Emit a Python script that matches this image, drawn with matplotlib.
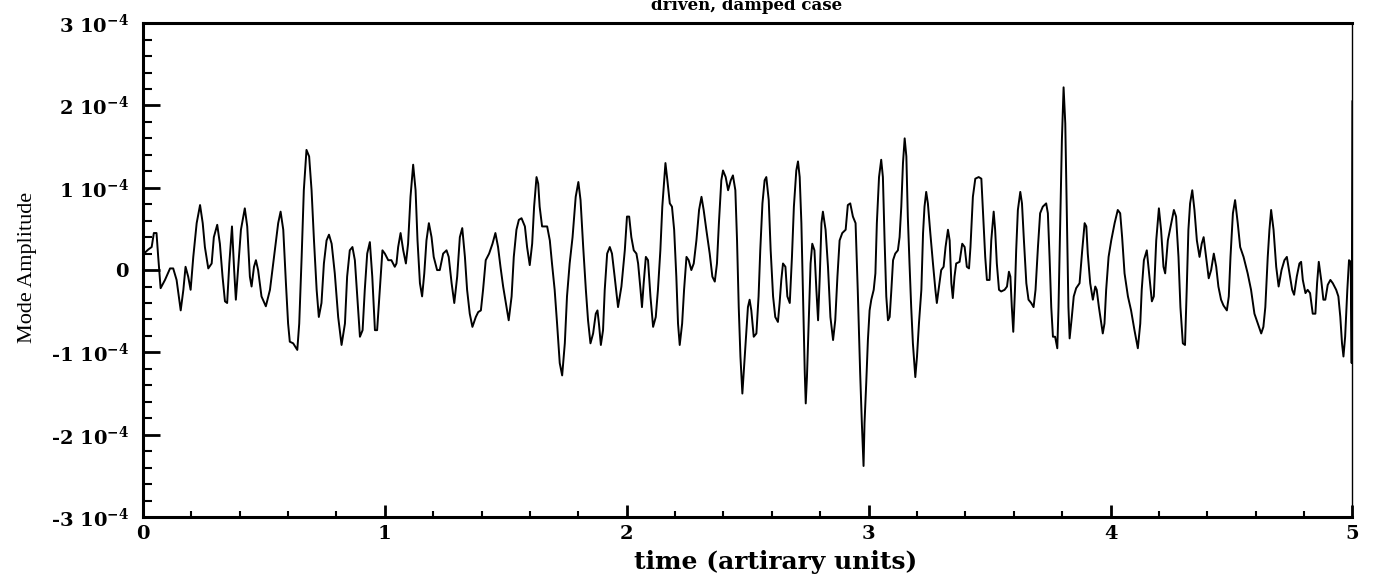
import numpy as np
import matplotlib
matplotlib.use('Agg')
from matplotlib import pyplot as plt
from matplotlib.ticker import MultipleLocator

# mode amplitude (units of 1e-4) vs time
t = [0.004, 0.022, 0.036, 0.045, 0.056, 0.063, 0.073, 0.091, 0.112, 0.125, 0.139, 0.156, 0.167, 0.176, 0.187, 0.197,
     0.208, 0.222, 0.236, 0.247, 0.256, 0.270, 0.284, 0.293, 0.307, 0.318, 0.329, 0.339, 0.348, 0.357, 0.368, 0.377,
     0.384, 0.394, 0.405, 0.421, 0.431, 0.442, 0.449, 0.459, 0.467, 0.476, 0.490, 0.508,
     0.525, 0.545, 0.559, 0.569, 0.580, 0.591, 0.600, 0.607, 0.621, 0.638, 0.646, 0.656, 0.665, 0.676, 0.687, 0.697,
     0.707, 0.718, 0.727, 0.738, 0.748, 0.759, 0.769, 0.780, 0.793, 0.807, 0.821, 0.835, 0.844, 0.855, 0.866, 0.876,
     0.886, 0.897, 0.908, 0.917, 0.927, 0.938, 0.948, 0.959, 0.968, 0.979, 0.990,
     1.000, 1.014, 1.027, 1.041, 1.048, 1.055, 1.065, 1.076, 1.087, 1.096, 1.106, 1.117, 1.127, 1.135, 1.145, 1.154,
     1.163, 1.172, 1.182, 1.193, 1.202, 1.216, 1.227, 1.241, 1.255, 1.264, 1.276, 1.287, 1.299, 1.310, 1.320, 1.331,
     1.340, 1.351, 1.362, 1.376, 1.386, 1.397, 1.406, 1.417, 1.431, 1.445, 1.457, 1.468, 1.478, 1.489,
     1.503, 1.512, 1.524, 1.533, 1.544, 1.554, 1.565, 1.579, 1.588, 1.599, 1.609, 1.617, 1.627, 1.634, 1.640, 1.650,
     1.661, 1.671, 1.682, 1.691, 1.702, 1.712, 1.723, 1.733, 1.744, 1.753, 1.764, 1.776, 1.789, 1.800, 1.809, 1.820,
     1.831, 1.840, 1.850, 1.861, 1.872, 1.879, 1.885, 1.893, 1.902, 1.909, 1.919, 1.930, 1.939, 1.950, 1.964, 1.978,
     1.992, 2.001, 2.010, 2.019, 2.029, 2.040, 2.047, 2.057, 2.063, 2.070, 2.079, 2.088, 2.098, 2.109, 2.120, 2.129,
     2.139, 2.147, 2.160, 2.168, 2.178, 2.187, 2.196, 2.205, 2.212, 2.219, 2.229, 2.237, 2.247, 2.256, 2.267, 2.277,
     2.288, 2.299, 2.309, 2.318, 2.329, 2.343, 2.354, 2.364, 2.373, 2.381, 2.391, 2.398, 2.409, 2.419, 2.430, 2.439,
     2.449, 2.456, 2.463, 2.470, 2.478,
     2.488, 2.495, 2.501, 2.508, 2.515, 2.525, 2.536, 2.545, 2.552, 2.561, 2.570, 2.577, 2.587, 2.595, 2.605, 2.614,
     2.625, 2.632, 2.639, 2.646, 2.656, 2.664, 2.674, 2.683, 2.691, 2.701, 2.708, 2.715, 2.722, 2.729, 2.736, 2.740,
     2.745, 2.752, 2.760, 2.767, 2.776, 2.784, 2.791, 2.798, 2.805, 2.811, 2.822, 2.832, 2.842, 2.853, 2.862, 2.871,
     2.880, 2.891, 2.905, 2.914, 2.924, 2.935, 2.946, 2.955, 2.965, 2.972, 2.979,
     2.983, 2.990, 2.997, 3.004, 3.011, 3.021, 3.028, 3.034, 3.043, 3.052, 3.059, 3.066, 3.073, 3.080, 3.087, 3.094,
     3.101, 3.110, 3.121, 3.128, 3.135, 3.142, 3.149, 3.156, 3.162, 3.169, 3.176, 3.183, 3.193, 3.200, 3.208, 3.218,
     3.225, 3.231, 3.238, 3.245, 3.255, 3.266, 3.276, 3.282, 3.291, 3.300, 3.310, 3.318, 3.328, 3.335, 3.342, 3.348,
     3.355, 3.362, 3.376, 3.387, 3.397, 3.406, 3.415, 3.421, 3.431, 3.441, 3.455, 3.466,
     3.475, 3.482, 3.489, 3.500, 3.507, 3.517, 3.523, 3.530, 3.539, 3.548, 3.562, 3.572, 3.580, 3.586, 3.592, 3.598,
     3.605, 3.610, 3.617, 3.627, 3.634, 3.642, 3.652, 3.661, 3.672, 3.682, 3.690, 3.700, 3.709, 3.720, 3.734, 3.741,
     3.748, 3.755, 3.762, 3.771, 3.780, 3.785, 3.792, 3.799, 3.806, 3.813, 3.820, 3.826, 3.831, 3.840, 3.848, 3.858,
     3.872, 3.883, 3.893, 3.900, 3.906, 3.916, 3.927, 3.937, 3.943, 3.952,
     3.962, 3.968, 3.975, 3.982, 3.992, 4.003, 4.017, 4.030, 4.040, 4.048, 4.058, 4.072, 4.085, 4.099, 4.113, 4.123,
     4.129, 4.138, 4.150, 4.161, 4.171, 4.179, 4.189, 4.200, 4.209, 4.219, 4.226, 4.237, 4.251, 4.262, 4.271, 4.281,
     4.289, 4.299, 4.308, 4.315, 4.322, 4.329, 4.338, 4.347, 4.357, 4.368, 4.377, 4.385, 4.395, 4.406, 4.416, 4.427,
     4.437, 4.446, 4.457, 4.467,
     4.481, 4.489, 4.496, 4.506, 4.515, 4.526, 4.536, 4.550, 4.567, 4.581, 4.595, 4.609, 4.623, 4.632, 4.640, 4.650,
     4.657, 4.664, 4.674, 4.685, 4.695, 4.707, 4.719, 4.729, 4.740, 4.751, 4.759, 4.770, 4.781, 4.788, 4.795, 4.806,
     4.815, 4.825, 4.836, 4.847, 4.854, 4.861, 4.871, 4.880, 4.888, 4.898, 4.909, 4.919, 4.933, 4.942, 4.950, 4.957,
     4.963, 4.970, 4.979, 4.986, 4.993, 4.997, 5.000]

amp = [0.20, 0.25, 0.28, 0.45, 0.45, 0.16, -0.22, -0.12, 0.02, 0.02, -0.12, -0.49, -0.24, 0.04, -0.08, -0.24,
       0.16, 0.57, 0.79, 0.57, 0.28, 0.02, 0.08, 0.40, 0.55, 0.32, -0.08, -0.38, -0.40, 0.08, 0.53, 0.00,
       -0.36, 0.04, 0.49, 0.75, 0.53, -0.08, -0.20, 0.04, 0.12, 0.00, -0.32, -0.44,
       -0.24, 0.24, 0.57, 0.71, 0.49, -0.16, -0.65, -0.87, -0.89, -0.97, -0.65, 0.16, 0.97, 1.46, 1.38, 0.97,
       0.36, -0.24, -0.57, -0.40, 0.08, 0.36, 0.43, 0.32, -0.04, -0.57, -0.91, -0.65, -0.08, 0.24, 0.28, 0.12,
       -0.32, -0.81, -0.73, -0.24, 0.20, 0.34, -0.08, -0.73, -0.73, -0.24, 0.24,
       0.20, 0.12, 0.12, 0.04, 0.08, 0.28, 0.45, 0.24, 0.08, 0.32, 0.89, 1.28, 0.97, 0.36, -0.16, -0.32,
       -0.04, 0.36, 0.57, 0.40, 0.16, 0.00, 0.00, 0.20, 0.24, 0.16, -0.16, -0.40, -0.08, 0.40, 0.51, 0.16,
       -0.24, -0.53, -0.69, -0.57, -0.51, -0.49, -0.24, 0.12, 0.20, 0.32, 0.45, 0.28, 0.04, -0.20,
       -0.45, -0.61, -0.32, 0.16, 0.49, 0.61, 0.63, 0.53, 0.28, 0.06, 0.32, 0.77, 1.13, 1.05, 0.77, 0.53,
       0.53, 0.53, 0.36, 0.08, -0.24, -0.65, -1.13, -1.28, -0.89, -0.32, 0.08, 0.40, 0.89, 1.07, 0.85, 0.28,
       -0.24, -0.61, -0.89, -0.77, -0.53, -0.49, -0.65, -0.91, -0.73, -0.24, 0.20, 0.28, 0.20, -0.08, -0.45, -0.20,
       0.24, 0.65, 0.65, 0.40, 0.24, 0.20, 0.08, -0.24, -0.45, -0.16, 0.16, 0.12, -0.32, -0.69, -0.57, -0.24,
       0.24, 0.77, 1.30, 1.09, 0.81, 0.77, 0.49, -0.08, -0.65, -0.91, -0.65, -0.24, 0.16, 0.12, 0.00, 0.08,
       0.36, 0.73, 0.89, 0.73, 0.49, 0.20, -0.08, -0.14, 0.08, 0.57, 1.09, 1.21, 1.13, 0.97, 1.09, 1.15,
       0.97, 0.36, -0.45, -1.05, -1.50,
       -1.05, -0.73, -0.45, -0.36, -0.49, -0.81, -0.77, -0.32, 0.24, 0.81, 1.09, 1.13, 0.85, 0.24, -0.32, -0.57,
       -0.63, -0.40, -0.12, 0.08, 0.04, -0.32, -0.40, 0.16, 0.77, 1.21, 1.32, 1.13, 0.57, -0.32, -1.25, -1.62,
       -1.30, -0.65, 0.08, 0.32, 0.24, -0.24, -0.61, -0.08, 0.57, 0.71, 0.49, 0.04, -0.57, -0.85, -0.61, -0.08,
       0.36, 0.45, 0.49, 0.79, 0.81, 0.65, 0.57, -0.24, -1.25, -1.86, -2.38,
       -1.86, -1.38, -0.85, -0.49, -0.36, -0.24, -0.04, 0.57, 1.13, 1.34, 1.13, 0.36, -0.32, -0.61, -0.57, -0.24,
       0.12, 0.20, 0.24, 0.40, 0.77, 1.30, 1.60, 1.38, 0.65, 0.08, -0.45, -0.89, -1.30, -1.05, -0.65, -0.24,
       0.45, 0.77, 0.95, 0.81, 0.45, 0.08, -0.24, -0.40, -0.20, 0.00, 0.04, 0.28, 0.49, 0.36, -0.16, -0.34,
       -0.08, 0.08, 0.10, 0.32, 0.28, 0.04, 0.02, 0.28, 0.89, 1.11, 1.13, 1.11,
       0.57, 0.16, -0.12, -0.12, 0.36, 0.71, 0.49, 0.08, -0.24, -0.26, -0.24, -0.20, -0.02, -0.08, -0.45, -0.75,
       -0.24, 0.24, 0.73, 0.95, 0.81, 0.36, -0.16, -0.36, -0.40, -0.45, -0.24, 0.28, 0.69, 0.77, 0.81, 0.69,
       0.16, -0.45, -0.81, -0.81, -0.95, -0.45, 0.57, 1.58, 2.22, 1.78, 0.57, -0.45, -0.83, -0.57, -0.32, -0.22,
       -0.16, 0.24, 0.57, 0.53, 0.20, -0.16, -0.36, -0.20, -0.24, -0.45,
       -0.65, -0.77, -0.65, -0.24, 0.16, 0.36, 0.57, 0.73, 0.69, 0.40, -0.04, -0.32, -0.49, -0.73, -0.95, -0.65,
       -0.24, 0.12, 0.24, -0.08, -0.38, -0.32, 0.36, 0.75, 0.49, 0.04, -0.04, 0.36, 0.57, 0.73, 0.65, 0.16,
       -0.45, -0.89, -0.91, -0.24, 0.49, 0.81, 0.97, 0.73, 0.36, 0.16, 0.32, 0.40, 0.16, -0.10, 0.00, 0.20,
       0.04, -0.20, -0.36, -0.43,
       -0.49, -0.32, 0.16, 0.69, 0.85, 0.57, 0.28, 0.16, -0.04, -0.24, -0.53, -0.65, -0.77, -0.69, -0.45, 0.16,
       0.49, 0.73, 0.49, 0.04, -0.20, 0.00, 0.12, 0.16, -0.04, -0.24, -0.30, -0.08, 0.08, 0.10, -0.12, -0.28,
       -0.24, -0.28, -0.53, -0.53, -0.16, 0.10, -0.12, -0.36, -0.36, -0.18, -0.12, -0.16, -0.24, -0.32, -0.57, -0.89,
       -1.05, -0.81, -0.24, 0.12, 0.10, -1.13, 2.05]

y_ticks = [-3, -2, -1, 0, 1, 2, 3]
x_ticks = [0, 1, 2, 3, 4, 5]

plt.rcParams['mathtext.fontset'] = 'dejavuserif'
bold = dict(family='DejaVu Serif', weight='bold')

fig = plt.figure(figsize=(13.8, 5.78), dpi=100)
ax = fig.add_axes([0.1036, 0.1055, 0.8764, 0.8545])
ax.plot(t, np.array(amp) * 1e-4, color='black', lw=1.4)

ax.set_xlim(0, 5)
ax.set_ylim(-3e-4, 3e-4)
ax.set_xticks(x_ticks)
ax.set_xticklabels([str(v) for v in x_ticks], fontsize=14, **bold)
ax.set_yticks([v * 1e-4 for v in y_ticks])
ax.set_yticklabels(['0' if v == 0 else '%d 10$^{\\mathbf{-4}}$' % v for v in y_ticks], fontsize=14, **bold)
ax.xaxis.set_minor_locator(MultipleLocator(0.2))
ax.yaxis.set_minor_locator(MultipleLocator(0.2e-4))
ax.tick_params(axis='y', which='major', direction='in', length=12, width=2, right=False, pad=10)
ax.tick_params(axis='y', which='minor', direction='in', length=6.5, width=1.5, right=False)
ax.tick_params(axis='x', which='major', direction='in', length=9, width=2, top=False, pad=6)
ax.tick_params(axis='x', which='minor', direction='in', length=4, width=1.5, top=False)
for s in ['left', 'bottom', 'top']:
    ax.spines[s].set_linewidth(2.2)
ax.spines['right'].set_linewidth(1.0)

fig.text(0.541, 1 - 6 / 578, 'driven, damped case', ha='center', va='center', fontsize=12, **bold)
fig.text(0.562, 0.027, 'time (artirary units)', ha='center', va='center', fontsize=18, **bold)
fig.text(0.020, 0.537, 'Mode Amplitude', ha='center', va='center', rotation=90,
         fontsize=16, family='Liberation Serif')

fig.savefig('out.png', dpi=100)
